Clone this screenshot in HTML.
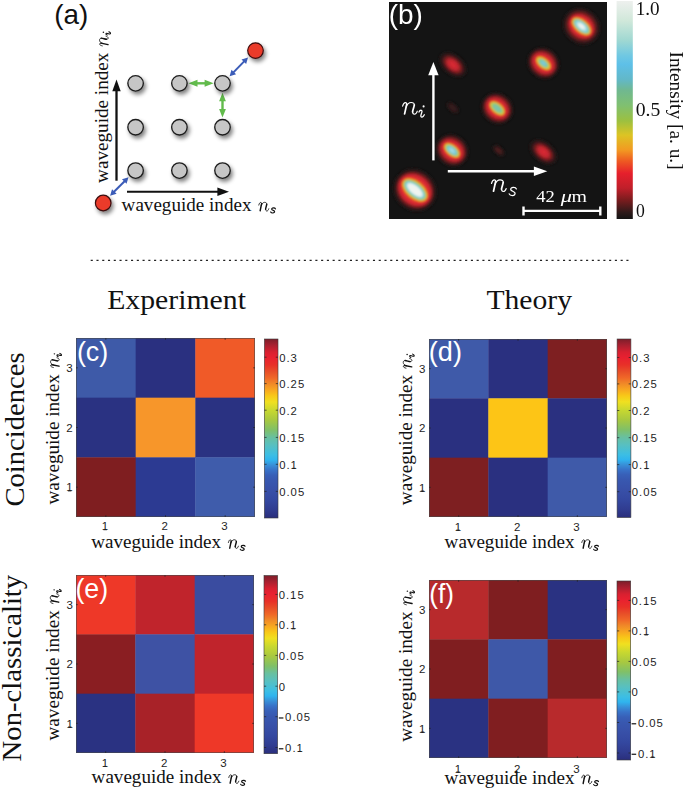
<!DOCTYPE html>
<html><head><meta charset="utf-8"><title>Figure</title>
<style>html,body{margin:0;padding:0;background:#fff;overflow:hidden;} svg{display:block;}</style></head>
<body><svg width="685" height="789" viewBox="0 0 685 789">
<defs><linearGradient id="gjet" x1="0" y1="0" x2="0" y2="1"><stop offset="0.000" stop-color="#7c1e2a"/><stop offset="0.034" stop-color="#a82030"/><stop offset="0.073" stop-color="#d82030"/><stop offset="0.102" stop-color="#e82030"/><stop offset="0.145" stop-color="#e83028"/><stop offset="0.184" stop-color="#e85028"/><stop offset="0.218" stop-color="#f06828"/><stop offset="0.249" stop-color="#f08828"/><stop offset="0.285" stop-color="#f8a820"/><stop offset="0.318" stop-color="#f8c818"/><stop offset="0.352" stop-color="#f0e020"/><stop offset="0.398" stop-color="#c8d830"/><stop offset="0.453" stop-color="#a8c840"/><stop offset="0.508" stop-color="#80c068"/><stop offset="0.550" stop-color="#68c0a0"/><stop offset="0.592" stop-color="#58c0c0"/><stop offset="0.648" stop-color="#3cbee4"/><stop offset="0.676" stop-color="#30b4ee"/><stop offset="0.704" stop-color="#3890d8"/><stop offset="0.732" stop-color="#3872c8"/><stop offset="0.760" stop-color="#3860b8"/><stop offset="0.788" stop-color="#3858b0"/><stop offset="0.844" stop-color="#3850a8"/><stop offset="0.900" stop-color="#3448a0"/><stop offset="0.955" stop-color="#303c90"/><stop offset="1.000" stop-color="#2a2e7c"/></linearGradient><linearGradient id="gb" x1="0" y1="0" x2="0" y2="1"><stop offset="0.000" stop-color="#eef0ee"/><stop offset="0.090" stop-color="#d0e8da"/><stop offset="0.180" stop-color="#a0d8d2"/><stop offset="0.250" stop-color="#70c8e2"/><stop offset="0.290" stop-color="#5ec0e8"/><stop offset="0.360" stop-color="#62b8c8"/><stop offset="0.410" stop-color="#70b890"/><stop offset="0.480" stop-color="#80c070"/><stop offset="0.550" stop-color="#9cc040"/><stop offset="0.615" stop-color="#dcc424"/><stop offset="0.683" stop-color="#f29a22"/><stop offset="0.734" stop-color="#ee5a22"/><stop offset="0.790" stop-color="#e6202c"/><stop offset="0.858" stop-color="#c01f2a"/><stop offset="0.913" stop-color="#7a1c1e"/><stop offset="0.970" stop-color="#2e1a1a"/><stop offset="1.000" stop-color="#141414"/></linearGradient><filter id="sh" x="-50%" y="-50%" width="200%" height="200%"><feGaussianBlur in="SourceAlpha" stdDeviation="2.1"/><feOffset dx="2.0" dy="2.6" result="o"/><feComponentTransfer><feFuncA type="linear" slope="0.5"/></feComponentTransfer><feMerge><feMergeNode/><feMergeNode in="SourceGraphic"/></feMerge></filter><filter id="bl" x="-20%" y="-20%" width="140%" height="140%"><feGaussianBlur stdDeviation="0.85"/></filter><clipPath id="cpb"><rect x="389" y="2" width="218" height="217"/></clipPath></defs>
<rect width="685" height="789" fill="#fff"/>
<text x="54.26" y="24.15" font-family="Liberation Sans" font-size="28" font-style="normal" fill="#111" textLength="33.96" lengthAdjust="spacingAndGlyphs">(a)</text>
<line x1="116.5" y1="180.7" x2="116.5" y2="90" stroke="#111" stroke-width="2.3"/>
<polygon points="116.5,79.6 112.3,91.2 120.7,91.2" fill="#111"/>
<line x1="127" y1="191.75" x2="218" y2="191.75" stroke="#111" stroke-width="2.2"/>
<polygon points="229,191.75 217.4,187.6 217.4,195.9" fill="#111"/>
<line x1="113.49" y1="192.31" x2="125.11" y2="180.69" stroke="#3b5cb8" stroke-width="2.0"/><polygon points="110.10,195.70 116.64,193.76 112.04,189.16" fill="#3b5cb8"/><polygon points="128.50,177.30 126.56,183.84 121.96,179.24" fill="#3b5cb8"/>
<line x1="232.95" y1="72.86" x2="244.65" y2="60.84" stroke="#3b5cb8" stroke-width="2.0"/><polygon points="229.60,76.30 236.11,74.27 231.46,69.73" fill="#3b5cb8"/><polygon points="248.00,57.40 246.14,63.97 241.49,59.43" fill="#3b5cb8"/>
<line x1="195.70" y1="83.30" x2="206.40" y2="83.30" stroke="#62bb4c" stroke-width="2.4"/><polygon points="188.50,83.30 197.50,86.80 197.50,79.80" fill="#62bb4c"/><polygon points="213.60,83.30 204.60,86.80 204.60,79.80" fill="#62bb4c"/>
<line x1="222.50" y1="99.60" x2="222.50" y2="110.80" stroke="#62bb4c" stroke-width="2.4"/><polygon points="222.50,92.80 219.10,101.30 225.90,101.30" fill="#62bb4c"/><polygon points="222.50,117.60 219.10,109.10 225.90,109.10" fill="#62bb4c"/>
<g filter="url(#sh)">
<circle cx="135.6" cy="83.35" r="7.75" fill="#c6c6c6" stroke="#1e1e1e" stroke-width="1.35"/>
<circle cx="179.4" cy="83.35" r="7.75" fill="#c6c6c6" stroke="#1e1e1e" stroke-width="1.35"/>
<circle cx="222.5" cy="83.35" r="7.75" fill="#c6c6c6" stroke="#1e1e1e" stroke-width="1.35"/>
<circle cx="135.6" cy="127.2" r="7.75" fill="#c6c6c6" stroke="#1e1e1e" stroke-width="1.35"/>
<circle cx="179.4" cy="127.2" r="7.75" fill="#c6c6c6" stroke="#1e1e1e" stroke-width="1.35"/>
<circle cx="222.5" cy="127.2" r="7.75" fill="#c6c6c6" stroke="#1e1e1e" stroke-width="1.35"/>
<circle cx="135.6" cy="170.55" r="7.75" fill="#c6c6c6" stroke="#1e1e1e" stroke-width="1.35"/>
<circle cx="179.4" cy="170.55" r="7.75" fill="#c6c6c6" stroke="#1e1e1e" stroke-width="1.35"/>
<circle cx="222.5" cy="170.55" r="7.75" fill="#c6c6c6" stroke="#1e1e1e" stroke-width="1.35"/>
<circle cx="255.5" cy="50.6" r="7.8" fill="#ea3a2c" stroke="#3a0c0c" stroke-width="1.2"/>
<circle cx="103.2" cy="203" r="7.8" fill="#ea3a2c" stroke="#3a0c0c" stroke-width="1.2"/>
</g>
<text x="121.60" y="210.80" font-family="Liberation Serif" font-size="19" font-style="normal" fill="#111" textLength="129.87" lengthAdjust="spacingAndGlyphs">waveguide index</text><g transform="translate(121.6,210.8) translate(137.2,0.2) scale(0.68,0.74) translate(-402.6,-114.2)" fill="none" stroke="#111" stroke-linecap="round" stroke-linejoin="round"><path d="M 402.6 106.2 C 403.2 104.0, 404.2 102.6, 405.4 102.6 C 406.4 102.6, 406.8 103.4, 406.7 104.4 M 406.2 107.0 C 407.2 104.2, 409.0 102.5, 411.2 102.5 C 413.2 102.5, 414.4 103.4, 414.3 105.0 M 412.6 111.8 C 412.6 113.4, 413.4 114.2, 414.4 114.2 C 415.8 114.2, 416.8 112.8, 417.3 111.2" stroke-width="1.2"/><path d="M 406.7 104.4 L 404.6 113.9 M 414.3 105.0 C 414.0 107.4, 412.8 109.8, 412.6 111.8" stroke-width="2.1"/></g><g transform="translate(121.6,210.8) translate(149.1,2.2) scale(0.66,0.62) translate(-509.2,-195.6)"><path d="M 516.4 188.9 C 515.9 187.7, 514.6 187.3, 513.3 187.4 C 511.5 187.5, 510.4 188.5, 510.8 189.8 C 511.2 191.1, 514.2 191.4, 514.9 192.8 C 515.5 194.2, 514.3 195.6, 512.4 195.6 C 510.9 195.6, 509.6 195.0, 509.2 193.9" fill="none" stroke="#111" stroke-width="1.85" stroke-linecap="round"/></g>
<text transform="translate(108.00,182.90) rotate(-90)" font-family="Liberation Serif" font-size="19" font-style="normal" fill="#111" textLength="130.27" lengthAdjust="spacingAndGlyphs">waveguide index</text><g transform="translate(108.0,182.9) rotate(-90) translate(137.0,0.2) scale(0.66,0.74) translate(-402.6,-114.2)" fill="none" stroke="#111" stroke-linecap="round" stroke-linejoin="round"><path d="M 402.6 106.2 C 403.2 104.0, 404.2 102.6, 405.4 102.6 C 406.4 102.6, 406.8 103.4, 406.7 104.4 M 406.2 107.0 C 407.2 104.2, 409.0 102.5, 411.2 102.5 C 413.2 102.5, 414.4 103.4, 414.3 105.0 M 412.6 111.8 C 412.6 113.4, 413.4 114.2, 414.4 114.2 C 415.8 114.2, 416.8 112.8, 417.3 111.2" stroke-width="1.2"/><path d="M 406.7 104.4 L 404.6 113.9 M 414.3 105.0 C 414.0 107.4, 412.8 109.8, 412.6 111.8" stroke-width="2.1"/></g><g transform="translate(108.0,182.9) rotate(-90) translate(147.8,2.6) scale(0.62,0.66) translate(-419.0,-117.3)"><circle cx="423.6" cy="106.4" r="1.15" fill="#111"/><path d="M 419.0 112.1 C 419.6 110.7, 420.6 110.1, 421.4 110.3 C 422.2 110.5, 422.1 111.6, 421.7 112.8 L 420.9 115.2 C 420.6 116.4, 421.1 117.3, 422.0 117.1 C 422.9 116.9, 423.7 115.9, 424.3 114.7" fill="none" stroke="#111" stroke-width="1.75" stroke-linecap="round"/></g>
<rect x="389" y="2" width="218" height="217" fill="#141414"/>
<g clip-path="url(#cpb)"><g filter="url(#bl)">
<ellipse cx="581.5" cy="26.3" rx="20.00" ry="18.00" transform="rotate(40 581.5 26.3)" fill="#211717"/>
<ellipse cx="581.5" cy="26.3" rx="18.50" ry="16.50" transform="rotate(40 581.5 26.3)" fill="#2a1919"/>
<ellipse cx="581.5" cy="26.3" rx="17.75" ry="15.75" transform="rotate(40 581.5 26.3)" fill="#341a1b"/>
<ellipse cx="581.5" cy="26.3" rx="17.00" ry="15.00" transform="rotate(40 581.5 26.3)" fill="#411b1c"/>
<ellipse cx="581.5" cy="26.3" rx="16.25" ry="14.25" transform="rotate(40 581.5 26.3)" fill="#4e1b1d"/>
<ellipse cx="581.5" cy="26.3" rx="15.50" ry="13.50" transform="rotate(40 581.5 26.3)" fill="#5a1b1e"/>
<ellipse cx="581.5" cy="26.3" rx="15.17" ry="13.05" transform="rotate(40 581.5 26.3)" fill="#671c1f"/>
<ellipse cx="581.5" cy="26.3" rx="14.83" ry="12.60" transform="rotate(40 581.5 26.3)" fill="#731c20"/>
<ellipse cx="581.5" cy="26.3" rx="14.50" ry="12.15" transform="rotate(40 581.5 26.3)" fill="#811e22"/>
<ellipse cx="581.5" cy="26.3" rx="14.17" ry="11.70" transform="rotate(40 581.5 26.3)" fill="#902025"/>
<ellipse cx="581.5" cy="26.3" rx="13.83" ry="11.25" transform="rotate(40 581.5 26.3)" fill="#9e2228"/>
<ellipse cx="581.5" cy="26.3" rx="13.35" ry="10.51" transform="rotate(40 581.5 26.3)" fill="#ba262e"/>
<ellipse cx="581.5" cy="26.3" rx="13.05" ry="9.94" transform="rotate(40 581.5 26.3)" fill="#c92830"/>
<ellipse cx="581.5" cy="26.3" rx="12.75" ry="9.36" transform="rotate(40 581.5 26.3)" fill="#d22931"/>
<ellipse cx="581.5" cy="26.3" rx="12.45" ry="8.79" transform="rotate(40 581.5 26.3)" fill="#da2a32"/>
<ellipse cx="581.5" cy="26.3" rx="12.17" ry="8.26" transform="rotate(40 581.5 26.3)" fill="#e12d31"/>
<ellipse cx="581.5" cy="26.3" rx="11.91" ry="7.78" transform="rotate(40 581.5 26.3)" fill="#e33b2e"/>
<ellipse cx="581.5" cy="26.3" rx="11.65" ry="7.30" transform="rotate(40 581.5 26.3)" fill="#e5492a"/>
<ellipse cx="581.5" cy="26.3" rx="11.39" ry="6.82" transform="rotate(40 581.5 26.3)" fill="#e75a28"/>
<ellipse cx="581.5" cy="26.3" rx="11.13" ry="6.34" transform="rotate(40 581.5 26.3)" fill="#e97128"/>
<ellipse cx="581.5" cy="26.3" rx="10.92" ry="5.98" transform="rotate(40 581.5 26.3)" fill="#ec8828"/>
<ellipse cx="581.5" cy="26.3" rx="10.76" ry="5.74" transform="rotate(40 581.5 26.3)" fill="#e99b2c"/>
<ellipse cx="581.5" cy="26.3" rx="10.60" ry="5.50" transform="rotate(40 581.5 26.3)" fill="#e6af30"/>
<ellipse cx="581.5" cy="26.3" rx="10.44" ry="5.26" transform="rotate(40 581.5 26.3)" fill="#e3c234"/>
<ellipse cx="581.5" cy="26.3" rx="10.28" ry="5.02" transform="rotate(40 581.5 26.3)" fill="#dccd3a"/>
<ellipse cx="581.5" cy="26.3" rx="10.11" ry="4.85" transform="rotate(40 581.5 26.3)" fill="#cfce42"/>
<ellipse cx="581.5" cy="26.3" rx="9.93" ry="4.75" transform="rotate(40 581.5 26.3)" fill="#c2cf4a"/>
<ellipse cx="581.5" cy="26.3" rx="9.75" ry="4.65" transform="rotate(40 581.5 26.3)" fill="#b5cf53"/>
<ellipse cx="581.5" cy="26.3" rx="9.57" ry="4.55" transform="rotate(40 581.5 26.3)" fill="#aacd5e"/>
<ellipse cx="581.5" cy="26.3" rx="9.39" ry="4.45" transform="rotate(40 581.5 26.3)" fill="#9ecb6a"/>
<ellipse cx="581.5" cy="26.3" rx="9.22" ry="4.36" transform="rotate(40 581.5 26.3)" fill="#93c975"/>
<ellipse cx="581.5" cy="26.3" rx="9.06" ry="4.28" transform="rotate(40 581.5 26.3)" fill="#8dc781"/>
<ellipse cx="581.5" cy="26.3" rx="8.90" ry="4.20" transform="rotate(40 581.5 26.3)" fill="#88c68c"/>
<ellipse cx="581.5" cy="26.3" rx="8.74" ry="4.12" transform="rotate(40 581.5 26.3)" fill="#83c597"/>
<ellipse cx="581.5" cy="26.3" rx="8.58" ry="4.04" transform="rotate(40 581.5 26.3)" fill="#7fc4a3"/>
<ellipse cx="581.5" cy="26.3" rx="8.42" ry="3.96" transform="rotate(40 581.5 26.3)" fill="#7dc5ae"/>
<ellipse cx="581.5" cy="26.3" rx="8.26" ry="3.88" transform="rotate(40 581.5 26.3)" fill="#7bc7ba"/>
<ellipse cx="581.5" cy="26.3" rx="8.10" ry="3.80" transform="rotate(40 581.5 26.3)" fill="#79c8c5"/>
<ellipse cx="581.5" cy="26.3" rx="7.88" ry="3.70" transform="rotate(40 581.5 26.3)" fill="#7ac9ce"/>
<ellipse cx="581.5" cy="26.3" rx="7.66" ry="3.60" transform="rotate(40 581.5 26.3)" fill="#7dcad6"/>
<ellipse cx="581.5" cy="26.3" rx="7.44" ry="3.50" transform="rotate(40 581.5 26.3)" fill="#7fccde"/>
<ellipse cx="581.5" cy="26.3" rx="7.22" ry="3.40" transform="rotate(40 581.5 26.3)" fill="#88cfe0"/>
<ellipse cx="581.5" cy="26.3" rx="7.00" ry="3.30" transform="rotate(40 581.5 26.3)" fill="#92d3e0"/>
<ellipse cx="581.5" cy="26.3" rx="6.52" ry="3.08" transform="rotate(40 581.5 26.3)" fill="#9cd7e0"/>
<ellipse cx="581.5" cy="26.3" rx="6.04" ry="2.86" transform="rotate(40 581.5 26.3)" fill="#a6dbe0"/>
<ellipse cx="581.5" cy="26.3" rx="5.56" ry="2.64" transform="rotate(40 581.5 26.3)" fill="#afdfe1"/>
<ellipse cx="581.5" cy="26.3" rx="5.08" ry="2.42" transform="rotate(40 581.5 26.3)" fill="#b9e2e3"/>
<ellipse cx="581.5" cy="26.3" rx="4.60" ry="2.20" transform="rotate(40 581.5 26.3)" fill="#c2e6e4"/>
<ellipse cx="581.5" cy="26.3" rx="4.32" ry="2.07" transform="rotate(40 581.5 26.3)" fill="#cceae6"/>
<ellipse cx="581.5" cy="26.3" rx="4.04" ry="1.93" transform="rotate(40 581.5 26.3)" fill="#d6ede8"/>
<ellipse cx="581.5" cy="26.3" rx="3.76" ry="1.80" transform="rotate(40 581.5 26.3)" fill="#dcefe9"/>
<ellipse cx="581.5" cy="26.3" rx="3.48" ry="1.67" transform="rotate(40 581.5 26.3)" fill="#e0f0eb"/>
<ellipse cx="581.5" cy="26.3" rx="3.20" ry="1.53" transform="rotate(40 581.5 26.3)" fill="#e5f1ec"/>
<ellipse cx="581.5" cy="26.3" rx="2.92" ry="1.40" transform="rotate(40 581.5 26.3)" fill="#eaf3ee"/>
<ellipse cx="581.5" cy="26.3" rx="2.64" ry="1.27" transform="rotate(40 581.5 26.3)" fill="#eff4f0"/>
<ellipse cx="543.4" cy="63.2" rx="17.00" ry="15.50" transform="rotate(40 543.4 63.2)" fill="#211717"/>
<ellipse cx="543.4" cy="63.2" rx="15.80" ry="14.20" transform="rotate(40 543.4 63.2)" fill="#2a1919"/>
<ellipse cx="543.4" cy="63.2" rx="15.30" ry="13.65" transform="rotate(40 543.4 63.2)" fill="#341a1b"/>
<ellipse cx="543.4" cy="63.2" rx="14.80" ry="13.10" transform="rotate(40 543.4 63.2)" fill="#411b1c"/>
<ellipse cx="543.4" cy="63.2" rx="14.30" ry="12.55" transform="rotate(40 543.4 63.2)" fill="#4e1b1d"/>
<ellipse cx="543.4" cy="63.2" rx="13.80" ry="12.00" transform="rotate(40 543.4 63.2)" fill="#5a1b1e"/>
<ellipse cx="543.4" cy="63.2" rx="13.53" ry="11.63" transform="rotate(40 543.4 63.2)" fill="#671c1f"/>
<ellipse cx="543.4" cy="63.2" rx="13.27" ry="11.27" transform="rotate(40 543.4 63.2)" fill="#731c20"/>
<ellipse cx="543.4" cy="63.2" rx="13.00" ry="10.90" transform="rotate(40 543.4 63.2)" fill="#811e22"/>
<ellipse cx="543.4" cy="63.2" rx="12.73" ry="10.53" transform="rotate(40 543.4 63.2)" fill="#902025"/>
<ellipse cx="543.4" cy="63.2" rx="12.47" ry="10.17" transform="rotate(40 543.4 63.2)" fill="#9e2228"/>
<ellipse cx="543.4" cy="63.2" rx="11.85" ry="9.41" transform="rotate(40 543.4 63.2)" fill="#ba262e"/>
<ellipse cx="543.4" cy="63.2" rx="11.15" ry="8.64" transform="rotate(40 543.4 63.2)" fill="#c92830"/>
<ellipse cx="543.4" cy="63.2" rx="10.45" ry="7.86" transform="rotate(40 543.4 63.2)" fill="#d22931"/>
<ellipse cx="543.4" cy="63.2" rx="9.75" ry="7.09" transform="rotate(40 543.4 63.2)" fill="#da2a32"/>
<ellipse cx="543.4" cy="63.2" rx="9.29" ry="6.49" transform="rotate(40 543.4 63.2)" fill="#e12d31"/>
<ellipse cx="543.4" cy="63.2" rx="9.07" ry="6.07" transform="rotate(40 543.4 63.2)" fill="#e33b2e"/>
<ellipse cx="543.4" cy="63.2" rx="8.85" ry="5.65" transform="rotate(40 543.4 63.2)" fill="#e5492a"/>
<ellipse cx="543.4" cy="63.2" rx="8.63" ry="5.23" transform="rotate(40 543.4 63.2)" fill="#e75a28"/>
<ellipse cx="543.4" cy="63.2" rx="8.41" ry="4.81" transform="rotate(40 543.4 63.2)" fill="#e97128"/>
<ellipse cx="543.4" cy="63.2" rx="8.21" ry="4.50" transform="rotate(40 543.4 63.2)" fill="#ec8828"/>
<ellipse cx="543.4" cy="63.2" rx="8.04" ry="4.30" transform="rotate(40 543.4 63.2)" fill="#e99b2c"/>
<ellipse cx="543.4" cy="63.2" rx="7.86" ry="4.10" transform="rotate(40 543.4 63.2)" fill="#e6af30"/>
<ellipse cx="543.4" cy="63.2" rx="7.69" ry="3.90" transform="rotate(40 543.4 63.2)" fill="#e3c234"/>
<ellipse cx="543.4" cy="63.2" rx="7.41" ry="3.71" transform="rotate(40 543.4 63.2)" fill="#dccd3a"/>
<ellipse cx="543.4" cy="63.2" rx="7.02" ry="3.52" transform="rotate(40 543.4 63.2)" fill="#cfce42"/>
<ellipse cx="543.4" cy="63.2" rx="6.64" ry="3.34" transform="rotate(40 543.4 63.2)" fill="#c2cf4a"/>
<ellipse cx="543.4" cy="63.2" rx="6.26" ry="3.16" transform="rotate(40 543.4 63.2)" fill="#b5cf53"/>
<ellipse cx="543.4" cy="63.2" rx="5.87" ry="2.97" transform="rotate(40 543.4 63.2)" fill="#aacd5e"/>
<ellipse cx="543.4" cy="63.2" rx="5.49" ry="2.79" transform="rotate(40 543.4 63.2)" fill="#9ecb6a"/>
<ellipse cx="543.4" cy="63.2" rx="5.20" ry="2.65" transform="rotate(40 543.4 63.2)" fill="#93c975"/>
<ellipse cx="543.4" cy="63.2" rx="5.00" ry="2.54" transform="rotate(40 543.4 63.2)" fill="#8dc781"/>
<ellipse cx="543.4" cy="63.2" rx="4.80" ry="2.43" transform="rotate(40 543.4 63.2)" fill="#88c68c"/>
<ellipse cx="543.4" cy="63.2" rx="4.60" ry="2.33" transform="rotate(40 543.4 63.2)" fill="#83c597"/>
<ellipse cx="543.4" cy="63.2" rx="4.40" ry="2.22" transform="rotate(40 543.4 63.2)" fill="#7fc4a3"/>
<ellipse cx="543.4" cy="63.2" rx="4.20" ry="2.11" transform="rotate(40 543.4 63.2)" fill="#7dc5ae"/>
<ellipse cx="543.4" cy="63.2" rx="4.00" ry="2.01" transform="rotate(40 543.4 63.2)" fill="#7bc7ba"/>
<ellipse cx="543.4" cy="63.2" rx="3.80" ry="1.90" transform="rotate(40 543.4 63.2)" fill="#79c8c5"/>
<ellipse cx="543.4" cy="63.2" rx="3.00" ry="1.50" transform="rotate(40 543.4 63.2)" fill="#7ac9ce"/>
<ellipse cx="543.4" cy="63.2" rx="2.20" ry="1.10" transform="rotate(40 543.4 63.2)" fill="#7dcad6"/>
<ellipse cx="543.4" cy="63.2" rx="1.40" ry="0.70" transform="rotate(40 543.4 63.2)" fill="#7fccde"/>
<ellipse cx="453.0" cy="64.8" rx="16.00" ry="10.50" transform="rotate(40 453.0 64.8)" fill="#211717"/>
<ellipse cx="453.0" cy="64.8" rx="14.00" ry="9.00" transform="rotate(40 453.0 64.8)" fill="#2a1919"/>
<ellipse cx="453.0" cy="64.8" rx="13.25" ry="8.40" transform="rotate(40 453.0 64.8)" fill="#341a1b"/>
<ellipse cx="453.0" cy="64.8" rx="12.50" ry="7.80" transform="rotate(40 453.0 64.8)" fill="#411b1c"/>
<ellipse cx="453.0" cy="64.8" rx="11.75" ry="7.20" transform="rotate(40 453.0 64.8)" fill="#4e1b1d"/>
<ellipse cx="453.0" cy="64.8" rx="11.00" ry="6.60" transform="rotate(40 453.0 64.8)" fill="#5a1b1e"/>
<ellipse cx="453.0" cy="64.8" rx="10.47" ry="6.28" transform="rotate(40 453.0 64.8)" fill="#671c1f"/>
<ellipse cx="453.0" cy="64.8" rx="9.93" ry="5.97" transform="rotate(40 453.0 64.8)" fill="#731c20"/>
<ellipse cx="453.0" cy="64.8" rx="9.40" ry="5.65" transform="rotate(40 453.0 64.8)" fill="#811e22"/>
<ellipse cx="453.0" cy="64.8" rx="8.87" ry="5.33" transform="rotate(40 453.0 64.8)" fill="#902025"/>
<ellipse cx="453.0" cy="64.8" rx="8.33" ry="5.02" transform="rotate(40 453.0 64.8)" fill="#9e2228"/>
<ellipse cx="453.0" cy="64.8" rx="7.10" ry="4.28" transform="rotate(40 453.0 64.8)" fill="#ba262e"/>
<ellipse cx="453.0" cy="64.8" rx="5.70" ry="3.43" transform="rotate(40 453.0 64.8)" fill="#c92830"/>
<ellipse cx="453.0" cy="64.8" rx="3.83" ry="2.30" transform="rotate(40 453.0 64.8)" fill="#d22931"/>
<ellipse cx="453.0" cy="64.8" rx="1.50" ry="0.90" transform="rotate(40 453.0 64.8)" fill="#da2a32"/>
<ellipse cx="497.2" cy="108.3" rx="17.00" ry="15.50" transform="rotate(40 497.2 108.3)" fill="#211717"/>
<ellipse cx="497.2" cy="108.3" rx="15.80" ry="14.20" transform="rotate(40 497.2 108.3)" fill="#2a1919"/>
<ellipse cx="497.2" cy="108.3" rx="15.30" ry="13.65" transform="rotate(40 497.2 108.3)" fill="#341a1b"/>
<ellipse cx="497.2" cy="108.3" rx="14.80" ry="13.10" transform="rotate(40 497.2 108.3)" fill="#411b1c"/>
<ellipse cx="497.2" cy="108.3" rx="14.30" ry="12.55" transform="rotate(40 497.2 108.3)" fill="#4e1b1d"/>
<ellipse cx="497.2" cy="108.3" rx="13.80" ry="12.00" transform="rotate(40 497.2 108.3)" fill="#5a1b1e"/>
<ellipse cx="497.2" cy="108.3" rx="13.53" ry="11.63" transform="rotate(40 497.2 108.3)" fill="#671c1f"/>
<ellipse cx="497.2" cy="108.3" rx="13.27" ry="11.27" transform="rotate(40 497.2 108.3)" fill="#731c20"/>
<ellipse cx="497.2" cy="108.3" rx="13.00" ry="10.90" transform="rotate(40 497.2 108.3)" fill="#811e22"/>
<ellipse cx="497.2" cy="108.3" rx="12.73" ry="10.53" transform="rotate(40 497.2 108.3)" fill="#902025"/>
<ellipse cx="497.2" cy="108.3" rx="12.47" ry="10.17" transform="rotate(40 497.2 108.3)" fill="#9e2228"/>
<ellipse cx="497.2" cy="108.3" rx="11.88" ry="9.44" transform="rotate(40 497.2 108.3)" fill="#ba262e"/>
<ellipse cx="497.2" cy="108.3" rx="11.23" ry="8.71" transform="rotate(40 497.2 108.3)" fill="#c92830"/>
<ellipse cx="497.2" cy="108.3" rx="10.58" ry="7.99" transform="rotate(40 497.2 108.3)" fill="#d22931"/>
<ellipse cx="497.2" cy="108.3" rx="9.93" ry="7.26" transform="rotate(40 497.2 108.3)" fill="#da2a32"/>
<ellipse cx="497.2" cy="108.3" rx="9.51" ry="6.69" transform="rotate(40 497.2 108.3)" fill="#e12d31"/>
<ellipse cx="497.2" cy="108.3" rx="9.33" ry="6.27" transform="rotate(40 497.2 108.3)" fill="#e33b2e"/>
<ellipse cx="497.2" cy="108.3" rx="9.15" ry="5.85" transform="rotate(40 497.2 108.3)" fill="#e5492a"/>
<ellipse cx="497.2" cy="108.3" rx="8.97" ry="5.43" transform="rotate(40 497.2 108.3)" fill="#e75a28"/>
<ellipse cx="497.2" cy="108.3" rx="8.79" ry="5.01" transform="rotate(40 497.2 108.3)" fill="#e97128"/>
<ellipse cx="497.2" cy="108.3" rx="8.61" ry="4.70" transform="rotate(40 497.2 108.3)" fill="#ec8828"/>
<ellipse cx="497.2" cy="108.3" rx="8.44" ry="4.50" transform="rotate(40 497.2 108.3)" fill="#e99b2c"/>
<ellipse cx="497.2" cy="108.3" rx="8.26" ry="4.30" transform="rotate(40 497.2 108.3)" fill="#e6af30"/>
<ellipse cx="497.2" cy="108.3" rx="8.09" ry="4.10" transform="rotate(40 497.2 108.3)" fill="#e3c234"/>
<ellipse cx="497.2" cy="108.3" rx="7.88" ry="3.93" transform="rotate(40 497.2 108.3)" fill="#dccd3a"/>
<ellipse cx="497.2" cy="108.3" rx="7.62" ry="3.80" transform="rotate(40 497.2 108.3)" fill="#cfce42"/>
<ellipse cx="497.2" cy="108.3" rx="7.37" ry="3.67" transform="rotate(40 497.2 108.3)" fill="#c2cf4a"/>
<ellipse cx="497.2" cy="108.3" rx="7.12" ry="3.53" transform="rotate(40 497.2 108.3)" fill="#b5cf53"/>
<ellipse cx="497.2" cy="108.3" rx="6.87" ry="3.40" transform="rotate(40 497.2 108.3)" fill="#aacd5e"/>
<ellipse cx="497.2" cy="108.3" rx="6.62" ry="3.27" transform="rotate(40 497.2 108.3)" fill="#9ecb6a"/>
<ellipse cx="497.2" cy="108.3" rx="6.25" ry="3.08" transform="rotate(40 497.2 108.3)" fill="#93c975"/>
<ellipse cx="497.2" cy="108.3" rx="5.75" ry="2.84" transform="rotate(40 497.2 108.3)" fill="#8dc781"/>
<ellipse cx="497.2" cy="108.3" rx="5.25" ry="2.60" transform="rotate(40 497.2 108.3)" fill="#88c68c"/>
<ellipse cx="497.2" cy="108.3" rx="4.75" ry="2.36" transform="rotate(40 497.2 108.3)" fill="#83c597"/>
<ellipse cx="497.2" cy="108.3" rx="4.25" ry="2.12" transform="rotate(40 497.2 108.3)" fill="#7fc4a3"/>
<ellipse cx="497.2" cy="108.3" rx="3.00" ry="1.50" transform="rotate(40 497.2 108.3)" fill="#7dc5ae"/>
<ellipse cx="452.8" cy="107.7" rx="7.67" ry="4.50" transform="rotate(40 452.8 107.7)" fill="#211717"/>
<ellipse cx="452.8" cy="107.7" rx="6.17" ry="3.50" transform="rotate(40 452.8 107.7)" fill="#2a1919"/>
<ellipse cx="452.8" cy="107.7" rx="4.50" ry="2.50" transform="rotate(40 452.8 107.7)" fill="#341a1b"/>
<ellipse cx="452.0" cy="150.4" rx="17.50" ry="16.00" transform="rotate(40 452.0 150.4)" fill="#211717"/>
<ellipse cx="452.0" cy="150.4" rx="16.20" ry="14.60" transform="rotate(40 452.0 150.4)" fill="#2a1919"/>
<ellipse cx="452.0" cy="150.4" rx="15.70" ry="14.03" transform="rotate(40 452.0 150.4)" fill="#341a1b"/>
<ellipse cx="452.0" cy="150.4" rx="15.20" ry="13.45" transform="rotate(40 452.0 150.4)" fill="#411b1c"/>
<ellipse cx="452.0" cy="150.4" rx="14.70" ry="12.88" transform="rotate(40 452.0 150.4)" fill="#4e1b1d"/>
<ellipse cx="452.0" cy="150.4" rx="14.20" ry="12.30" transform="rotate(40 452.0 150.4)" fill="#5a1b1e"/>
<ellipse cx="452.0" cy="150.4" rx="13.92" ry="11.92" transform="rotate(40 452.0 150.4)" fill="#671c1f"/>
<ellipse cx="452.0" cy="150.4" rx="13.63" ry="11.53" transform="rotate(40 452.0 150.4)" fill="#731c20"/>
<ellipse cx="452.0" cy="150.4" rx="13.35" ry="11.15" transform="rotate(40 452.0 150.4)" fill="#811e22"/>
<ellipse cx="452.0" cy="150.4" rx="13.07" ry="10.77" transform="rotate(40 452.0 150.4)" fill="#902025"/>
<ellipse cx="452.0" cy="150.4" rx="12.78" ry="10.38" transform="rotate(40 452.0 150.4)" fill="#9e2228"/>
<ellipse cx="452.0" cy="150.4" rx="12.19" ry="9.62" transform="rotate(40 452.0 150.4)" fill="#ba262e"/>
<ellipse cx="452.0" cy="150.4" rx="11.56" ry="8.88" transform="rotate(40 452.0 150.4)" fill="#c92830"/>
<ellipse cx="452.0" cy="150.4" rx="10.94" ry="8.13" transform="rotate(40 452.0 150.4)" fill="#d22931"/>
<ellipse cx="452.0" cy="150.4" rx="10.31" ry="7.38" transform="rotate(40 452.0 150.4)" fill="#da2a32"/>
<ellipse cx="452.0" cy="150.4" rx="9.90" ry="6.80" transform="rotate(40 452.0 150.4)" fill="#e12d31"/>
<ellipse cx="452.0" cy="150.4" rx="9.70" ry="6.40" transform="rotate(40 452.0 150.4)" fill="#e33b2e"/>
<ellipse cx="452.0" cy="150.4" rx="9.50" ry="6.00" transform="rotate(40 452.0 150.4)" fill="#e5492a"/>
<ellipse cx="452.0" cy="150.4" rx="9.30" ry="5.60" transform="rotate(40 452.0 150.4)" fill="#e75a28"/>
<ellipse cx="452.0" cy="150.4" rx="9.10" ry="5.20" transform="rotate(40 452.0 150.4)" fill="#e97128"/>
<ellipse cx="452.0" cy="150.4" rx="8.91" ry="4.90" transform="rotate(40 452.0 150.4)" fill="#ec8828"/>
<ellipse cx="452.0" cy="150.4" rx="8.74" ry="4.70" transform="rotate(40 452.0 150.4)" fill="#e99b2c"/>
<ellipse cx="452.0" cy="150.4" rx="8.56" ry="4.50" transform="rotate(40 452.0 150.4)" fill="#e6af30"/>
<ellipse cx="452.0" cy="150.4" rx="8.39" ry="4.30" transform="rotate(40 452.0 150.4)" fill="#e3c234"/>
<ellipse cx="452.0" cy="150.4" rx="8.19" ry="4.14" transform="rotate(40 452.0 150.4)" fill="#dccd3a"/>
<ellipse cx="452.0" cy="150.4" rx="7.98" ry="4.03" transform="rotate(40 452.0 150.4)" fill="#cfce42"/>
<ellipse cx="452.0" cy="150.4" rx="7.76" ry="3.91" transform="rotate(40 452.0 150.4)" fill="#c2cf4a"/>
<ellipse cx="452.0" cy="150.4" rx="7.54" ry="3.79" transform="rotate(40 452.0 150.4)" fill="#b5cf53"/>
<ellipse cx="452.0" cy="150.4" rx="7.32" ry="3.67" transform="rotate(40 452.0 150.4)" fill="#aacd5e"/>
<ellipse cx="452.0" cy="150.4" rx="7.11" ry="3.56" transform="rotate(40 452.0 150.4)" fill="#9ecb6a"/>
<ellipse cx="452.0" cy="150.4" rx="6.89" ry="3.44" transform="rotate(40 452.0 150.4)" fill="#93c975"/>
<ellipse cx="452.0" cy="150.4" rx="6.67" ry="3.33" transform="rotate(40 452.0 150.4)" fill="#8dc781"/>
<ellipse cx="452.0" cy="150.4" rx="6.45" ry="3.22" transform="rotate(40 452.0 150.4)" fill="#88c68c"/>
<ellipse cx="452.0" cy="150.4" rx="6.23" ry="3.11" transform="rotate(40 452.0 150.4)" fill="#83c597"/>
<ellipse cx="452.0" cy="150.4" rx="6.01" ry="3.00" transform="rotate(40 452.0 150.4)" fill="#7fc4a3"/>
<ellipse cx="452.0" cy="150.4" rx="5.79" ry="2.89" transform="rotate(40 452.0 150.4)" fill="#7dc5ae"/>
<ellipse cx="452.0" cy="150.4" rx="5.57" ry="2.78" transform="rotate(40 452.0 150.4)" fill="#7bc7ba"/>
<ellipse cx="452.0" cy="150.4" rx="5.35" ry="2.67" transform="rotate(40 452.0 150.4)" fill="#79c8c5"/>
<ellipse cx="452.0" cy="150.4" rx="5.13" ry="2.56" transform="rotate(40 452.0 150.4)" fill="#7ac9ce"/>
<ellipse cx="452.0" cy="150.4" rx="4.91" ry="2.45" transform="rotate(40 452.0 150.4)" fill="#7dcad6"/>
<ellipse cx="452.0" cy="150.4" rx="4.48" ry="2.24" transform="rotate(40 452.0 150.4)" fill="#7fccde"/>
<ellipse cx="452.0" cy="150.4" rx="3.85" ry="1.92" transform="rotate(40 452.0 150.4)" fill="#88cfe0"/>
<ellipse cx="452.0" cy="150.4" rx="3.22" ry="1.61" transform="rotate(40 452.0 150.4)" fill="#92d3e0"/>
<ellipse cx="452.0" cy="150.4" rx="2.58" ry="1.29" transform="rotate(40 452.0 150.4)" fill="#9cd7e0"/>
<ellipse cx="452.0" cy="150.4" rx="1.95" ry="0.97" transform="rotate(40 452.0 150.4)" fill="#a6dbe0"/>
<ellipse cx="452.0" cy="150.4" rx="1.32" ry="0.66" transform="rotate(40 452.0 150.4)" fill="#afdfe1"/>
<ellipse cx="498.6" cy="150.5" rx="7.67" ry="4.50" transform="rotate(40 498.6 150.5)" fill="#211717"/>
<ellipse cx="498.6" cy="150.5" rx="6.33" ry="3.60" transform="rotate(40 498.6 150.5)" fill="#2a1919"/>
<ellipse cx="498.6" cy="150.5" rx="5.00" ry="2.80" transform="rotate(40 498.6 150.5)" fill="#341a1b"/>
<ellipse cx="498.6" cy="150.5" rx="3.83" ry="2.13" transform="rotate(40 498.6 150.5)" fill="#411b1c"/>
<ellipse cx="498.6" cy="150.5" rx="2.67" ry="1.47" transform="rotate(40 498.6 150.5)" fill="#4e1b1d"/>
<ellipse cx="543.4" cy="152.0" rx="16.00" ry="10.50" transform="rotate(40 543.4 152.0)" fill="#211717"/>
<ellipse cx="543.4" cy="152.0" rx="14.00" ry="9.00" transform="rotate(40 543.4 152.0)" fill="#2a1919"/>
<ellipse cx="543.4" cy="152.0" rx="13.25" ry="8.40" transform="rotate(40 543.4 152.0)" fill="#341a1b"/>
<ellipse cx="543.4" cy="152.0" rx="12.50" ry="7.80" transform="rotate(40 543.4 152.0)" fill="#411b1c"/>
<ellipse cx="543.4" cy="152.0" rx="11.75" ry="7.20" transform="rotate(40 543.4 152.0)" fill="#4e1b1d"/>
<ellipse cx="543.4" cy="152.0" rx="11.00" ry="6.60" transform="rotate(40 543.4 152.0)" fill="#5a1b1e"/>
<ellipse cx="543.4" cy="152.0" rx="10.47" ry="6.28" transform="rotate(40 543.4 152.0)" fill="#671c1f"/>
<ellipse cx="543.4" cy="152.0" rx="9.93" ry="5.97" transform="rotate(40 543.4 152.0)" fill="#731c20"/>
<ellipse cx="543.4" cy="152.0" rx="9.40" ry="5.65" transform="rotate(40 543.4 152.0)" fill="#811e22"/>
<ellipse cx="543.4" cy="152.0" rx="8.87" ry="5.33" transform="rotate(40 543.4 152.0)" fill="#902025"/>
<ellipse cx="543.4" cy="152.0" rx="8.33" ry="5.02" transform="rotate(40 543.4 152.0)" fill="#9e2228"/>
<ellipse cx="543.4" cy="152.0" rx="7.10" ry="4.28" transform="rotate(40 543.4 152.0)" fill="#ba262e"/>
<ellipse cx="543.4" cy="152.0" rx="5.70" ry="3.43" transform="rotate(40 543.4 152.0)" fill="#c92830"/>
<ellipse cx="543.4" cy="152.0" rx="3.83" ry="2.30" transform="rotate(40 543.4 152.0)" fill="#d22931"/>
<ellipse cx="543.4" cy="152.0" rx="1.50" ry="0.90" transform="rotate(40 543.4 152.0)" fill="#da2a32"/>
<ellipse cx="414.9" cy="190.0" rx="23.00" ry="21.00" transform="rotate(40 414.9 190.0)" fill="#211717"/>
<ellipse cx="414.9" cy="190.0" rx="21.50" ry="19.50" transform="rotate(40 414.9 190.0)" fill="#2a1919"/>
<ellipse cx="414.9" cy="190.0" rx="20.50" ry="18.50" transform="rotate(40 414.9 190.0)" fill="#341a1b"/>
<ellipse cx="414.9" cy="190.0" rx="20.10" ry="18.00" transform="rotate(40 414.9 190.0)" fill="#411b1c"/>
<ellipse cx="414.9" cy="190.0" rx="19.70" ry="17.50" transform="rotate(40 414.9 190.0)" fill="#4e1b1d"/>
<ellipse cx="414.9" cy="190.0" rx="19.30" ry="17.00" transform="rotate(40 414.9 190.0)" fill="#5a1b1e"/>
<ellipse cx="414.9" cy="190.0" rx="18.90" ry="16.50" transform="rotate(40 414.9 190.0)" fill="#671c1f"/>
<ellipse cx="414.9" cy="190.0" rx="18.50" ry="16.00" transform="rotate(40 414.9 190.0)" fill="#731c20"/>
<ellipse cx="414.9" cy="190.0" rx="18.29" ry="15.69" transform="rotate(40 414.9 190.0)" fill="#811e22"/>
<ellipse cx="414.9" cy="190.0" rx="18.07" ry="15.37" transform="rotate(40 414.9 190.0)" fill="#902025"/>
<ellipse cx="414.9" cy="190.0" rx="17.86" ry="15.06" transform="rotate(40 414.9 190.0)" fill="#9e2228"/>
<ellipse cx="414.9" cy="190.0" rx="17.43" ry="14.43" transform="rotate(40 414.9 190.0)" fill="#ba262e"/>
<ellipse cx="414.9" cy="190.0" rx="17.00" ry="13.80" transform="rotate(40 414.9 190.0)" fill="#c92830"/>
<ellipse cx="414.9" cy="190.0" rx="16.64" ry="12.96" transform="rotate(40 414.9 190.0)" fill="#d22931"/>
<ellipse cx="414.9" cy="190.0" rx="16.28" ry="12.12" transform="rotate(40 414.9 190.0)" fill="#da2a32"/>
<ellipse cx="414.9" cy="190.0" rx="15.92" ry="11.28" transform="rotate(40 414.9 190.0)" fill="#e12d31"/>
<ellipse cx="414.9" cy="190.0" rx="15.56" ry="10.44" transform="rotate(40 414.9 190.0)" fill="#e33b2e"/>
<ellipse cx="414.9" cy="190.0" rx="15.20" ry="9.60" transform="rotate(40 414.9 190.0)" fill="#e5492a"/>
<ellipse cx="414.9" cy="190.0" rx="14.92" ry="9.12" transform="rotate(40 414.9 190.0)" fill="#e75a28"/>
<ellipse cx="414.9" cy="190.0" rx="14.64" ry="8.64" transform="rotate(40 414.9 190.0)" fill="#e97128"/>
<ellipse cx="414.9" cy="190.0" rx="14.41" ry="8.28" transform="rotate(40 414.9 190.0)" fill="#ec8828"/>
<ellipse cx="414.9" cy="190.0" rx="14.24" ry="8.03" transform="rotate(40 414.9 190.0)" fill="#e99b2c"/>
<ellipse cx="414.9" cy="190.0" rx="14.06" ry="7.78" transform="rotate(40 414.9 190.0)" fill="#e6af30"/>
<ellipse cx="414.9" cy="190.0" rx="13.89" ry="7.53" transform="rotate(40 414.9 190.0)" fill="#e3c234"/>
<ellipse cx="414.9" cy="190.0" rx="13.70" ry="7.30" transform="rotate(40 414.9 190.0)" fill="#dccd3a"/>
<ellipse cx="414.9" cy="190.0" rx="13.50" ry="7.10" transform="rotate(40 414.9 190.0)" fill="#cfce42"/>
<ellipse cx="414.9" cy="190.0" rx="13.30" ry="6.90" transform="rotate(40 414.9 190.0)" fill="#c2cf4a"/>
<ellipse cx="414.9" cy="190.0" rx="13.10" ry="6.70" transform="rotate(40 414.9 190.0)" fill="#b5cf53"/>
<ellipse cx="414.9" cy="190.0" rx="12.94" ry="6.54" transform="rotate(40 414.9 190.0)" fill="#aacd5e"/>
<ellipse cx="414.9" cy="190.0" rx="12.78" ry="6.38" transform="rotate(40 414.9 190.0)" fill="#9ecb6a"/>
<ellipse cx="414.9" cy="190.0" rx="12.62" ry="6.22" transform="rotate(40 414.9 190.0)" fill="#93c975"/>
<ellipse cx="414.9" cy="190.0" rx="12.46" ry="6.06" transform="rotate(40 414.9 190.0)" fill="#8dc781"/>
<ellipse cx="414.9" cy="190.0" rx="12.30" ry="5.90" transform="rotate(40 414.9 190.0)" fill="#88c68c"/>
<ellipse cx="414.9" cy="190.0" rx="12.13" ry="5.78" transform="rotate(40 414.9 190.0)" fill="#83c597"/>
<ellipse cx="414.9" cy="190.0" rx="11.95" ry="5.66" transform="rotate(40 414.9 190.0)" fill="#7fc4a3"/>
<ellipse cx="414.9" cy="190.0" rx="11.78" ry="5.54" transform="rotate(40 414.9 190.0)" fill="#7dc5ae"/>
<ellipse cx="414.9" cy="190.0" rx="11.61" ry="5.42" transform="rotate(40 414.9 190.0)" fill="#7bc7ba"/>
<ellipse cx="414.9" cy="190.0" rx="11.43" ry="5.30" transform="rotate(40 414.9 190.0)" fill="#79c8c5"/>
<ellipse cx="414.9" cy="190.0" rx="11.26" ry="5.18" transform="rotate(40 414.9 190.0)" fill="#7ac9ce"/>
<ellipse cx="414.9" cy="190.0" rx="11.09" ry="5.06" transform="rotate(40 414.9 190.0)" fill="#7dcad6"/>
<ellipse cx="414.9" cy="190.0" rx="10.90" ry="4.93" transform="rotate(40 414.9 190.0)" fill="#7fccde"/>
<ellipse cx="414.9" cy="190.0" rx="10.70" ry="4.80" transform="rotate(40 414.9 190.0)" fill="#88cfe0"/>
<ellipse cx="414.9" cy="190.0" rx="10.50" ry="4.67" transform="rotate(40 414.9 190.0)" fill="#92d3e0"/>
<ellipse cx="414.9" cy="190.0" rx="10.30" ry="4.53" transform="rotate(40 414.9 190.0)" fill="#9cd7e0"/>
<ellipse cx="414.9" cy="190.0" rx="10.10" ry="4.40" transform="rotate(40 414.9 190.0)" fill="#a6dbe0"/>
<ellipse cx="414.9" cy="190.0" rx="9.90" ry="4.27" transform="rotate(40 414.9 190.0)" fill="#afdfe1"/>
<ellipse cx="414.9" cy="190.0" rx="9.70" ry="4.13" transform="rotate(40 414.9 190.0)" fill="#b9e2e3"/>
<ellipse cx="414.9" cy="190.0" rx="9.50" ry="4.00" transform="rotate(40 414.9 190.0)" fill="#c2e6e4"/>
<ellipse cx="414.9" cy="190.0" rx="9.30" ry="3.92" transform="rotate(40 414.9 190.0)" fill="#cceae6"/>
<ellipse cx="414.9" cy="190.0" rx="9.10" ry="3.84" transform="rotate(40 414.9 190.0)" fill="#d6ede8"/>
<ellipse cx="414.9" cy="190.0" rx="8.90" ry="3.76" transform="rotate(40 414.9 190.0)" fill="#dcefe9"/>
<ellipse cx="414.9" cy="190.0" rx="8.70" ry="3.68" transform="rotate(40 414.9 190.0)" fill="#e0f0eb"/>
<ellipse cx="414.9" cy="190.0" rx="8.50" ry="3.60" transform="rotate(40 414.9 190.0)" fill="#e5f1ec"/>
<ellipse cx="414.9" cy="190.0" rx="8.30" ry="3.52" transform="rotate(40 414.9 190.0)" fill="#eaf3ee"/>
<ellipse cx="414.9" cy="190.0" rx="8.10" ry="3.44" transform="rotate(40 414.9 190.0)" fill="#eff4f0"/>
</g></g>
<line x1="433.4" y1="160.4" x2="433.4" y2="73" stroke="#fff" stroke-width="2.4"/>
<polygon points="433.4,61.9 428.2,75.2 438.6,75.2" fill="#fff"/>
<line x1="447.8" y1="171.2" x2="535" y2="171.2" stroke="#fff" stroke-width="2.4"/>
<polygon points="547.3,171.2 533.9,166.4 533.9,176" fill="#fff"/>
<g transform="translate(0,0)" fill="none" stroke="#fff" stroke-linecap="round" stroke-linejoin="round"><path d="M 402.6 106.2 C 403.2 104.0, 404.2 102.6, 405.4 102.6 C 406.4 102.6, 406.8 103.4, 406.7 104.4 M 406.2 107.0 C 407.2 104.2, 409.0 102.5, 411.2 102.5 C 413.2 102.5, 414.4 103.4, 414.3 105.0 M 412.6 111.8 C 412.6 113.4, 413.4 114.2, 414.4 114.2 C 415.8 114.2, 416.8 112.8, 417.3 111.2" stroke-width="1.15"/><path d="M 406.7 104.4 L 404.6 113.9 M 414.3 105.0 C 414.0 107.4, 412.8 109.8, 412.6 111.8" stroke-width="1.75"/></g>
<g transform="translate(88.9,77.3)" fill="none" stroke="#fff" stroke-linecap="round" stroke-linejoin="round"><path d="M 402.6 106.2 C 403.2 104.0, 404.2 102.6, 405.4 102.6 C 406.4 102.6, 406.8 103.4, 406.7 104.4 M 406.2 107.0 C 407.2 104.2, 409.0 102.5, 411.2 102.5 C 413.2 102.5, 414.4 103.4, 414.3 105.0 M 412.6 111.8 C 412.6 113.4, 413.4 114.2, 414.4 114.2 C 415.8 114.2, 416.8 112.8, 417.3 111.2" stroke-width="1.15"/><path d="M 406.7 104.4 L 404.6 113.9 M 414.3 105.0 C 414.0 107.4, 412.8 109.8, 412.6 111.8" stroke-width="1.75"/></g>
<circle cx="423.6" cy="106.4" r="1.05" fill="#fff"/>
<path d="M 419.0 112.1 C 419.6 110.7, 420.6 110.1, 421.4 110.3 C 422.2 110.5, 422.1 111.6, 421.7 112.8 L 420.9 115.2 C 420.6 116.4, 421.1 117.3, 422.0 117.1 C 422.9 116.9, 423.7 115.9, 424.3 114.7" fill="none" stroke="#fff" stroke-width="1.25" stroke-linecap="round"/>
<path d="M 516.4 188.9 C 515.9 187.7, 514.6 187.3, 513.3 187.4 C 511.5 187.5, 510.4 188.5, 510.8 189.8 C 511.2 191.1, 514.2 191.4, 514.9 192.8 C 515.5 194.2, 514.3 195.6, 512.4 195.6 C 510.9 195.6, 509.6 195.0, 509.2 193.9" fill="none" stroke="#fff" stroke-width="1.3" stroke-linecap="round"/>
<text x="536.23" y="202.10" font-family="Liberation Serif" font-size="17.2" font-style="normal" fill="#fff" textLength="18.57" lengthAdjust="spacingAndGlyphs">42</text>
<text x="560.80" y="202.00" font-family="Liberation Serif" font-size="17.5" font-style="italic" fill="#fff" textLength="11.32" lengthAdjust="spacingAndGlyphs">μ</text>
<text x="571.61" y="201.90" font-family="Liberation Serif" font-size="17" font-style="normal" fill="#fff" textLength="15.47" lengthAdjust="spacingAndGlyphs">m</text>
<line x1="523" y1="210.8" x2="600.5" y2="210.8" stroke="#fff" stroke-width="2.2"/>
<line x1="523.5" y1="206.5" x2="523.5" y2="215.5" stroke="#fff" stroke-width="2.4"/>
<line x1="600.3" y1="206.5" x2="600.3" y2="215.5" stroke="#fff" stroke-width="2.4"/>
<text x="388.75" y="23.55" font-family="Liberation Sans" font-size="28" font-style="normal" fill="#fff" textLength="34.18" lengthAdjust="spacingAndGlyphs">(b)</text>
<rect x="616.6" y="1" width="16.2" height="218" fill="url(#gb)"/>
<text x="635.65" y="14.65" font-family="Liberation Serif" font-size="18.5" font-style="normal" fill="#111" textLength="23.90" lengthAdjust="spacingAndGlyphs">1.0</text>
<text x="635.80" y="116.15" font-family="Liberation Serif" font-size="18.5" font-style="normal" fill="#111" textLength="24.56" lengthAdjust="spacingAndGlyphs">0.5</text>
<text x="635.88" y="216.65" font-family="Liberation Serif" font-size="18.5" font-style="normal" fill="#111" textLength="8.83" lengthAdjust="spacingAndGlyphs">0</text>
<text transform="translate(669.80,51.44) rotate(90)" font-family="Liberation Serif" font-size="19.6" font-style="normal" fill="#111" textLength="118.22" lengthAdjust="spacingAndGlyphs">Intensity [a. u.]</text>
<line x1="90.7" y1="260.4" x2="628.6" y2="260.4" stroke="#222" stroke-width="1.3" stroke-dasharray="2.1 3.66"/>
<text x="107.19" y="308.90" font-family="Liberation Serif" font-size="27.5" font-style="normal" fill="#111" textLength="138.76" lengthAdjust="spacingAndGlyphs">Experiment</text>
<text x="486.46" y="308.60" font-family="Liberation Serif" font-size="27.5" font-style="normal" fill="#111" textLength="85.52" lengthAdjust="spacingAndGlyphs">Theory</text>
<text transform="translate(23.50,506.54) rotate(-90)" font-family="Liberation Serif" font-size="27.5" font-style="normal" fill="#111" textLength="154.18" lengthAdjust="spacingAndGlyphs">Coincidences</text>
<text transform="translate(20.90,761.48) rotate(-90)" font-family="Liberation Serif" font-size="27.5" font-style="normal" fill="#111" textLength="186.70" lengthAdjust="spacingAndGlyphs">Non-classicality</text>
<rect x="76.00" y="338.00" width="60.07" height="60.07" fill="#3e5aa8"/>
<rect x="135.67" y="338.00" width="60.06" height="60.07" fill="#2a3080"/>
<rect x="195.33" y="338.00" width="59.67" height="60.07" fill="#f05a28"/>
<rect x="76.00" y="397.67" width="60.07" height="60.06" fill="#2a3282"/>
<rect x="135.67" y="397.67" width="60.06" height="60.06" fill="#f7962a"/>
<rect x="195.33" y="397.67" width="59.67" height="60.06" fill="#2a3282"/>
<rect x="76.00" y="457.33" width="60.07" height="59.67" fill="#7f1e20"/>
<rect x="135.67" y="457.33" width="60.06" height="59.67" fill="#2c3a92"/>
<rect x="195.33" y="457.33" width="59.67" height="59.67" fill="#3f5cab"/>
<rect x="76.3" y="338.3" width="178.4" height="178.4" fill="none" stroke="#4a4a4a" stroke-width="0.6"/>
<line x1="105.83" y1="517" x2="105.83" y2="515.2" stroke="#222" stroke-width="0.7"/>
<line x1="105.83" y1="338" x2="105.83" y2="339.8" stroke="#222" stroke-width="0.7"/>
<line x1="76" y1="367.83" x2="77.8" y2="367.83" stroke="#222" stroke-width="0.7"/>
<line x1="255" y1="367.83" x2="253.2" y2="367.83" stroke="#222" stroke-width="0.7"/>
<line x1="165.50" y1="517" x2="165.50" y2="515.2" stroke="#222" stroke-width="0.7"/>
<line x1="165.50" y1="338" x2="165.50" y2="339.8" stroke="#222" stroke-width="0.7"/>
<line x1="76" y1="427.50" x2="77.8" y2="427.50" stroke="#222" stroke-width="0.7"/>
<line x1="255" y1="427.50" x2="253.2" y2="427.50" stroke="#222" stroke-width="0.7"/>
<line x1="225.17" y1="517" x2="225.17" y2="515.2" stroke="#222" stroke-width="0.7"/>
<line x1="225.17" y1="338" x2="225.17" y2="339.8" stroke="#222" stroke-width="0.7"/>
<line x1="76" y1="487.17" x2="77.8" y2="487.17" stroke="#222" stroke-width="0.7"/>
<line x1="255" y1="487.17" x2="253.2" y2="487.17" stroke="#222" stroke-width="0.7"/>
<text x="76.92" y="360.95" font-family="Liberation Sans" font-size="28" font-style="normal" fill="#fff" textLength="31.37" lengthAdjust="spacingAndGlyphs">(c)</text>
<rect x="264.4" y="339" width="13.6" height="179" fill="url(#gjet)" stroke="#3a3a3a" stroke-width="0.6"/>
<line x1="264.4" y1="357.2" x2="266.59999999999997" y2="357.2" stroke="#222" stroke-width="0.7"/>
<line x1="275.8" y1="357.2" x2="278.0" y2="357.2" stroke="#222" stroke-width="0.7"/>
<text x="279.20" y="361.70" font-family="Liberation Sans" font-size="11.3" letter-spacing="1.0" fill="#1e1e1e">0.3</text>

<line x1="264.4" y1="383.6" x2="266.59999999999997" y2="383.6" stroke="#222" stroke-width="0.7"/>
<line x1="275.8" y1="383.6" x2="278.0" y2="383.6" stroke="#222" stroke-width="0.7"/>
<text x="279.20" y="388.10" font-family="Liberation Sans" font-size="11.3" letter-spacing="1.0" fill="#1e1e1e">0.25</text>

<line x1="264.4" y1="410.2" x2="266.59999999999997" y2="410.2" stroke="#222" stroke-width="0.7"/>
<line x1="275.8" y1="410.2" x2="278.0" y2="410.2" stroke="#222" stroke-width="0.7"/>
<text x="279.20" y="414.70" font-family="Liberation Sans" font-size="11.3" letter-spacing="1.0" fill="#1e1e1e">0.2</text>

<line x1="264.4" y1="437.4" x2="266.59999999999997" y2="437.4" stroke="#222" stroke-width="0.7"/>
<line x1="275.8" y1="437.4" x2="278.0" y2="437.4" stroke="#222" stroke-width="0.7"/>
<text x="279.20" y="441.90" font-family="Liberation Sans" font-size="11.3" letter-spacing="1.0" fill="#1e1e1e">0.15</text>
<rect x="292.15" y="440.95" width="3.5" height="0.95" fill="#1e1e1e"/>
<line x1="264.4" y1="464.3" x2="266.59999999999997" y2="464.3" stroke="#222" stroke-width="0.7"/>
<line x1="275.8" y1="464.3" x2="278.0" y2="464.3" stroke="#222" stroke-width="0.7"/>
<text x="279.20" y="468.80" font-family="Liberation Sans" font-size="11.3" letter-spacing="1.0" fill="#1e1e1e">0.1</text>
<rect x="292.15" y="467.85" width="3.5" height="0.95" fill="#1e1e1e"/>
<line x1="264.4" y1="491.4" x2="266.59999999999997" y2="491.4" stroke="#222" stroke-width="0.7"/>
<line x1="275.8" y1="491.4" x2="278.0" y2="491.4" stroke="#222" stroke-width="0.7"/>
<text x="279.20" y="495.90" font-family="Liberation Sans" font-size="11.3" letter-spacing="1.0" fill="#1e1e1e">0.05</text>

<text x="105.0" y="530.2" font-family="Liberation Sans" font-size="11.5" fill="#1e1e1e" text-anchor="middle">1</text>
<text x="69.5" y="491.4" font-family="Liberation Sans" font-size="11.5" fill="#1e1e1e" text-anchor="middle">1</text>
<rect x="103.42" y="529.25" width="3.5" height="0.95" fill="#1e1e1e"/>
<rect x="67.89" y="490.42" width="3.5" height="0.95" fill="#1e1e1e"/>
<text x="164.7" y="530.2" font-family="Liberation Sans" font-size="11.5" fill="#1e1e1e" text-anchor="middle">2</text>
<text x="69.5" y="431.7" font-family="Liberation Sans" font-size="11.5" fill="#1e1e1e" text-anchor="middle">2</text>
<text x="224.4" y="530.2" font-family="Liberation Sans" font-size="11.5" fill="#1e1e1e" text-anchor="middle">3</text>
<text x="69.5" y="372.0" font-family="Liberation Sans" font-size="11.5" fill="#1e1e1e" text-anchor="middle">3</text>
<text x="91.20" y="548.20" font-family="Liberation Serif" font-size="19" font-style="normal" fill="#111" textLength="129.87" lengthAdjust="spacingAndGlyphs">waveguide index</text><g transform="translate(91.2,548.2) translate(137.2,0.2) scale(0.68,0.74) translate(-402.6,-114.2)" fill="none" stroke="#111" stroke-linecap="round" stroke-linejoin="round"><path d="M 402.6 106.2 C 403.2 104.0, 404.2 102.6, 405.4 102.6 C 406.4 102.6, 406.8 103.4, 406.7 104.4 M 406.2 107.0 C 407.2 104.2, 409.0 102.5, 411.2 102.5 C 413.2 102.5, 414.4 103.4, 414.3 105.0 M 412.6 111.8 C 412.6 113.4, 413.4 114.2, 414.4 114.2 C 415.8 114.2, 416.8 112.8, 417.3 111.2" stroke-width="1.2"/><path d="M 406.7 104.4 L 404.6 113.9 M 414.3 105.0 C 414.0 107.4, 412.8 109.8, 412.6 111.8" stroke-width="2.1"/></g><g transform="translate(91.2,548.2) translate(149.1,2.2) scale(0.66,0.62) translate(-509.2,-195.6)"><path d="M 516.4 188.9 C 515.9 187.7, 514.6 187.3, 513.3 187.4 C 511.5 187.5, 510.4 188.5, 510.8 189.8 C 511.2 191.1, 514.2 191.4, 514.9 192.8 C 515.5 194.2, 514.3 195.6, 512.4 195.6 C 510.9 195.6, 509.6 195.0, 509.2 193.9" fill="none" stroke="#111" stroke-width="1.85" stroke-linecap="round"/></g>
<text transform="translate(59.00,504.50) rotate(-90)" font-family="Liberation Serif" font-size="19" font-style="normal" fill="#111" textLength="130.27" lengthAdjust="spacingAndGlyphs">waveguide index</text><g transform="translate(59.0,504.5) rotate(-90) translate(137.0,0.2) scale(0.66,0.74) translate(-402.6,-114.2)" fill="none" stroke="#111" stroke-linecap="round" stroke-linejoin="round"><path d="M 402.6 106.2 C 403.2 104.0, 404.2 102.6, 405.4 102.6 C 406.4 102.6, 406.8 103.4, 406.7 104.4 M 406.2 107.0 C 407.2 104.2, 409.0 102.5, 411.2 102.5 C 413.2 102.5, 414.4 103.4, 414.3 105.0 M 412.6 111.8 C 412.6 113.4, 413.4 114.2, 414.4 114.2 C 415.8 114.2, 416.8 112.8, 417.3 111.2" stroke-width="1.2"/><path d="M 406.7 104.4 L 404.6 113.9 M 414.3 105.0 C 414.0 107.4, 412.8 109.8, 412.6 111.8" stroke-width="2.1"/></g><g transform="translate(59.0,504.5) rotate(-90) translate(147.8,2.6) scale(0.62,0.66) translate(-419.0,-117.3)"><circle cx="423.6" cy="106.4" r="1.15" fill="#111"/><path d="M 419.0 112.1 C 419.6 110.7, 420.6 110.1, 421.4 110.3 C 422.2 110.5, 422.1 111.6, 421.7 112.8 L 420.9 115.2 C 420.6 116.4, 421.1 117.3, 422.0 117.1 C 422.9 116.9, 423.7 115.9, 424.3 114.7" fill="none" stroke="#111" stroke-width="1.75" stroke-linecap="round"/></g>
<rect x="429.00" y="339.00" width="59.73" height="59.73" fill="#3f5aa9"/>
<rect x="488.33" y="339.00" width="59.74" height="59.73" fill="#2a3080"/>
<rect x="547.67" y="339.00" width="59.33" height="59.73" fill="#7e1f21"/>
<rect x="429.00" y="398.33" width="59.73" height="59.74" fill="#2a3080"/>
<rect x="488.33" y="398.33" width="59.74" height="59.74" fill="#fdc516"/>
<rect x="547.67" y="398.33" width="59.33" height="59.74" fill="#2a3080"/>
<rect x="429.00" y="457.67" width="59.73" height="59.33" fill="#7e1f21"/>
<rect x="488.33" y="457.67" width="59.74" height="59.33" fill="#2a3080"/>
<rect x="547.67" y="457.67" width="59.33" height="59.33" fill="#3f5aa9"/>
<rect x="429.3" y="339.3" width="177.4" height="177.4" fill="none" stroke="#4a4a4a" stroke-width="0.6"/>
<line x1="458.67" y1="517" x2="458.67" y2="515.2" stroke="#222" stroke-width="0.7"/>
<line x1="458.67" y1="339" x2="458.67" y2="340.8" stroke="#222" stroke-width="0.7"/>
<line x1="429" y1="368.67" x2="430.8" y2="368.67" stroke="#222" stroke-width="0.7"/>
<line x1="607" y1="368.67" x2="605.2" y2="368.67" stroke="#222" stroke-width="0.7"/>
<line x1="518.00" y1="517" x2="518.00" y2="515.2" stroke="#222" stroke-width="0.7"/>
<line x1="518.00" y1="339" x2="518.00" y2="340.8" stroke="#222" stroke-width="0.7"/>
<line x1="429" y1="428.00" x2="430.8" y2="428.00" stroke="#222" stroke-width="0.7"/>
<line x1="607" y1="428.00" x2="605.2" y2="428.00" stroke="#222" stroke-width="0.7"/>
<line x1="577.33" y1="517" x2="577.33" y2="515.2" stroke="#222" stroke-width="0.7"/>
<line x1="577.33" y1="339" x2="577.33" y2="340.8" stroke="#222" stroke-width="0.7"/>
<line x1="429" y1="487.33" x2="430.8" y2="487.33" stroke="#222" stroke-width="0.7"/>
<line x1="607" y1="487.33" x2="605.2" y2="487.33" stroke="#222" stroke-width="0.7"/>
<text x="428.80" y="360.60" font-family="Liberation Sans" font-size="28" font-style="normal" fill="#fff" textLength="33.18" lengthAdjust="spacingAndGlyphs">(d)</text>
<rect x="617.1" y="339" width="13.8" height="178.5" fill="url(#gjet)" stroke="#3a3a3a" stroke-width="0.6"/>
<line x1="617.1" y1="357.5" x2="619.3000000000001" y2="357.5" stroke="#222" stroke-width="0.7"/>
<line x1="628.6999999999999" y1="357.5" x2="630.9" y2="357.5" stroke="#222" stroke-width="0.7"/>
<text x="631.80" y="362.00" font-family="Liberation Sans" font-size="11.3" letter-spacing="1.0" fill="#1e1e1e">0.3</text>

<line x1="617.1" y1="383.90000000000003" x2="619.3000000000001" y2="383.90000000000003" stroke="#222" stroke-width="0.7"/>
<line x1="628.6999999999999" y1="383.90000000000003" x2="630.9" y2="383.90000000000003" stroke="#222" stroke-width="0.7"/>
<text x="631.80" y="388.40" font-family="Liberation Sans" font-size="11.3" letter-spacing="1.0" fill="#1e1e1e">0.25</text>

<line x1="617.1" y1="410.5" x2="619.3000000000001" y2="410.5" stroke="#222" stroke-width="0.7"/>
<line x1="628.6999999999999" y1="410.5" x2="630.9" y2="410.5" stroke="#222" stroke-width="0.7"/>
<text x="631.80" y="415.00" font-family="Liberation Sans" font-size="11.3" letter-spacing="1.0" fill="#1e1e1e">0.2</text>

<line x1="617.1" y1="437.7" x2="619.3000000000001" y2="437.7" stroke="#222" stroke-width="0.7"/>
<line x1="628.6999999999999" y1="437.7" x2="630.9" y2="437.7" stroke="#222" stroke-width="0.7"/>
<text x="631.80" y="442.20" font-family="Liberation Sans" font-size="11.3" letter-spacing="1.0" fill="#1e1e1e">0.15</text>
<rect x="644.75" y="441.25" width="3.5" height="0.95" fill="#1e1e1e"/>
<line x1="617.1" y1="464.6" x2="619.3000000000001" y2="464.6" stroke="#222" stroke-width="0.7"/>
<line x1="628.6999999999999" y1="464.6" x2="630.9" y2="464.6" stroke="#222" stroke-width="0.7"/>
<text x="631.80" y="469.10" font-family="Liberation Sans" font-size="11.3" letter-spacing="1.0" fill="#1e1e1e">0.1</text>
<rect x="644.75" y="468.15" width="3.5" height="0.95" fill="#1e1e1e"/>
<line x1="617.1" y1="491.7" x2="619.3000000000001" y2="491.7" stroke="#222" stroke-width="0.7"/>
<line x1="628.6999999999999" y1="491.7" x2="630.9" y2="491.7" stroke="#222" stroke-width="0.7"/>
<text x="631.80" y="496.20" font-family="Liberation Sans" font-size="11.3" letter-spacing="1.0" fill="#1e1e1e">0.05</text>

<text x="457.9" y="530.6" font-family="Liberation Sans" font-size="11.5" fill="#1e1e1e" text-anchor="middle">1</text>
<text x="422.3" y="491.5" font-family="Liberation Sans" font-size="11.5" fill="#1e1e1e" text-anchor="middle">1</text>
<rect x="456.25" y="529.65" width="3.5" height="0.95" fill="#1e1e1e"/>
<rect x="420.69" y="490.58" width="3.5" height="0.95" fill="#1e1e1e"/>
<text x="517.2" y="530.6" font-family="Liberation Sans" font-size="11.5" fill="#1e1e1e" text-anchor="middle">2</text>
<text x="422.3" y="432.2" font-family="Liberation Sans" font-size="11.5" fill="#1e1e1e" text-anchor="middle">2</text>
<text x="576.5" y="530.6" font-family="Liberation Sans" font-size="11.5" fill="#1e1e1e" text-anchor="middle">3</text>
<text x="422.3" y="372.9" font-family="Liberation Sans" font-size="11.5" fill="#1e1e1e" text-anchor="middle">3</text>
<text x="444.60" y="548.20" font-family="Liberation Serif" font-size="19" font-style="normal" fill="#111" textLength="129.87" lengthAdjust="spacingAndGlyphs">waveguide index</text><g transform="translate(444.6,548.2) translate(137.2,0.2) scale(0.68,0.74) translate(-402.6,-114.2)" fill="none" stroke="#111" stroke-linecap="round" stroke-linejoin="round"><path d="M 402.6 106.2 C 403.2 104.0, 404.2 102.6, 405.4 102.6 C 406.4 102.6, 406.8 103.4, 406.7 104.4 M 406.2 107.0 C 407.2 104.2, 409.0 102.5, 411.2 102.5 C 413.2 102.5, 414.4 103.4, 414.3 105.0 M 412.6 111.8 C 412.6 113.4, 413.4 114.2, 414.4 114.2 C 415.8 114.2, 416.8 112.8, 417.3 111.2" stroke-width="1.2"/><path d="M 406.7 104.4 L 404.6 113.9 M 414.3 105.0 C 414.0 107.4, 412.8 109.8, 412.6 111.8" stroke-width="2.1"/></g><g transform="translate(444.6,548.2) translate(149.1,2.2) scale(0.66,0.62) translate(-509.2,-195.6)"><path d="M 516.4 188.9 C 515.9 187.7, 514.6 187.3, 513.3 187.4 C 511.5 187.5, 510.4 188.5, 510.8 189.8 C 511.2 191.1, 514.2 191.4, 514.9 192.8 C 515.5 194.2, 514.3 195.6, 512.4 195.6 C 510.9 195.6, 509.6 195.0, 509.2 193.9" fill="none" stroke="#111" stroke-width="1.85" stroke-linecap="round"/></g>
<text transform="translate(411.70,505.20) rotate(-90)" font-family="Liberation Serif" font-size="19" font-style="normal" fill="#111" textLength="130.27" lengthAdjust="spacingAndGlyphs">waveguide index</text><g transform="translate(411.7,505.2) rotate(-90) translate(137.0,0.2) scale(0.66,0.74) translate(-402.6,-114.2)" fill="none" stroke="#111" stroke-linecap="round" stroke-linejoin="round"><path d="M 402.6 106.2 C 403.2 104.0, 404.2 102.6, 405.4 102.6 C 406.4 102.6, 406.8 103.4, 406.7 104.4 M 406.2 107.0 C 407.2 104.2, 409.0 102.5, 411.2 102.5 C 413.2 102.5, 414.4 103.4, 414.3 105.0 M 412.6 111.8 C 412.6 113.4, 413.4 114.2, 414.4 114.2 C 415.8 114.2, 416.8 112.8, 417.3 111.2" stroke-width="1.2"/><path d="M 406.7 104.4 L 404.6 113.9 M 414.3 105.0 C 414.0 107.4, 412.8 109.8, 412.6 111.8" stroke-width="2.1"/></g><g transform="translate(411.7,505.2) rotate(-90) translate(147.8,2.6) scale(0.62,0.66) translate(-419.0,-117.3)"><circle cx="423.6" cy="106.4" r="1.15" fill="#111"/><path d="M 419.0 112.1 C 419.6 110.7, 420.6 110.1, 421.4 110.3 C 422.2 110.5, 422.1 111.6, 421.7 112.8 L 420.9 115.2 C 420.6 116.4, 421.1 117.3, 422.0 117.1 C 422.9 116.9, 423.7 115.9, 424.3 114.7" fill="none" stroke="#111" stroke-width="1.75" stroke-linecap="round"/></g>
<rect x="76.00" y="575.00" width="59.73" height="59.73" fill="#ee3828"/>
<rect x="135.33" y="575.00" width="59.74" height="59.73" fill="#c0242c"/>
<rect x="194.67" y="575.00" width="59.33" height="59.73" fill="#3a4ca0"/>
<rect x="76.00" y="634.33" width="59.73" height="59.74" fill="#8a1e22"/>
<rect x="135.33" y="634.33" width="59.74" height="59.74" fill="#3e52a4"/>
<rect x="194.67" y="634.33" width="59.33" height="59.74" fill="#c0242c"/>
<rect x="76.00" y="693.67" width="59.73" height="59.33" fill="#2a3282"/>
<rect x="135.33" y="693.67" width="59.74" height="59.33" fill="#a82228"/>
<rect x="194.67" y="693.67" width="59.33" height="59.33" fill="#ee3828"/>
<rect x="76.3" y="575.3" width="177.4" height="177.4" fill="none" stroke="#4a4a4a" stroke-width="0.6"/>
<line x1="105.67" y1="753" x2="105.67" y2="751.2" stroke="#222" stroke-width="0.7"/>
<line x1="105.67" y1="575" x2="105.67" y2="576.8" stroke="#222" stroke-width="0.7"/>
<line x1="76" y1="604.67" x2="77.8" y2="604.67" stroke="#222" stroke-width="0.7"/>
<line x1="254" y1="604.67" x2="252.2" y2="604.67" stroke="#222" stroke-width="0.7"/>
<line x1="165.00" y1="753" x2="165.00" y2="751.2" stroke="#222" stroke-width="0.7"/>
<line x1="165.00" y1="575" x2="165.00" y2="576.8" stroke="#222" stroke-width="0.7"/>
<line x1="76" y1="664.00" x2="77.8" y2="664.00" stroke="#222" stroke-width="0.7"/>
<line x1="254" y1="664.00" x2="252.2" y2="664.00" stroke="#222" stroke-width="0.7"/>
<line x1="224.33" y1="753" x2="224.33" y2="751.2" stroke="#222" stroke-width="0.7"/>
<line x1="224.33" y1="575" x2="224.33" y2="576.8" stroke="#222" stroke-width="0.7"/>
<line x1="76" y1="723.33" x2="77.8" y2="723.33" stroke="#222" stroke-width="0.7"/>
<line x1="254" y1="723.33" x2="252.2" y2="723.33" stroke="#222" stroke-width="0.7"/>
<text x="75.43" y="597.50" font-family="Liberation Sans" font-size="28" font-style="normal" fill="#fff" textLength="32.73" lengthAdjust="spacingAndGlyphs">(e)</text>
<rect x="264" y="575.5" width="13.6" height="178.2" fill="url(#gjet)" stroke="#3a3a3a" stroke-width="0.6"/>
<line x1="264" y1="594.4" x2="266.2" y2="594.4" stroke="#222" stroke-width="0.7"/>
<line x1="275.40000000000003" y1="594.4" x2="277.6" y2="594.4" stroke="#222" stroke-width="0.7"/>
<text x="278.70" y="598.90" font-family="Liberation Sans" font-size="11.3" letter-spacing="1.0" fill="#1e1e1e">0.15</text>
<rect x="291.65" y="597.95" width="3.5" height="0.95" fill="#1e1e1e"/>
<line x1="264" y1="624.8" x2="266.2" y2="624.8" stroke="#222" stroke-width="0.7"/>
<line x1="275.40000000000003" y1="624.8" x2="277.6" y2="624.8" stroke="#222" stroke-width="0.7"/>
<text x="278.70" y="629.30" font-family="Liberation Sans" font-size="11.3" letter-spacing="1.0" fill="#1e1e1e">0.1</text>
<rect x="291.65" y="628.35" width="3.5" height="0.95" fill="#1e1e1e"/>
<line x1="264" y1="655.4" x2="266.2" y2="655.4" stroke="#222" stroke-width="0.7"/>
<line x1="275.40000000000003" y1="655.4" x2="277.6" y2="655.4" stroke="#222" stroke-width="0.7"/>
<text x="278.70" y="659.90" font-family="Liberation Sans" font-size="11.3" letter-spacing="1.0" fill="#1e1e1e">0.05</text>

<line x1="264" y1="686.2" x2="266.2" y2="686.2" stroke="#222" stroke-width="0.7"/>
<line x1="275.40000000000003" y1="686.2" x2="277.6" y2="686.2" stroke="#222" stroke-width="0.7"/>
<text x="278.70" y="690.70" font-family="Liberation Sans" font-size="11.3" letter-spacing="1.0" fill="#1e1e1e">0</text>

<line x1="264" y1="716.7" x2="266.2" y2="716.7" stroke="#222" stroke-width="0.7"/>
<line x1="275.40000000000003" y1="716.7" x2="277.6" y2="716.7" stroke="#222" stroke-width="0.7"/>
<rect x="278.80" y="717.35" width="4.6" height="1.25" fill="#1e1e1e"/>
<text x="285.10" y="721.20" font-family="Liberation Sans" font-size="11.3" letter-spacing="1.0" fill="#1e1e1e">0.05</text>

<line x1="264" y1="747.5" x2="266.2" y2="747.5" stroke="#222" stroke-width="0.7"/>
<line x1="275.40000000000003" y1="747.5" x2="277.6" y2="747.5" stroke="#222" stroke-width="0.7"/>
<rect x="278.80" y="748.15" width="4.6" height="1.25" fill="#1e1e1e"/>
<text x="285.10" y="752.00" font-family="Liberation Sans" font-size="11.3" letter-spacing="1.0" fill="#1e1e1e">0.1</text>
<rect x="298.05" y="751.05" width="3.5" height="0.95" fill="#1e1e1e"/>
<text x="104.9" y="766.9" font-family="Liberation Sans" font-size="11.5" fill="#1e1e1e" text-anchor="middle">1</text>
<text x="69.6" y="727.5" font-family="Liberation Sans" font-size="11.5" fill="#1e1e1e" text-anchor="middle">1</text>
<rect x="103.25" y="765.95" width="3.5" height="0.95" fill="#1e1e1e"/>
<rect x="67.99" y="726.58" width="3.5" height="0.95" fill="#1e1e1e"/>
<text x="164.2" y="766.9" font-family="Liberation Sans" font-size="11.5" fill="#1e1e1e" text-anchor="middle">2</text>
<text x="69.6" y="668.2" font-family="Liberation Sans" font-size="11.5" fill="#1e1e1e" text-anchor="middle">2</text>
<text x="223.5" y="766.9" font-family="Liberation Sans" font-size="11.5" fill="#1e1e1e" text-anchor="middle">3</text>
<text x="69.6" y="608.9" font-family="Liberation Sans" font-size="11.5" fill="#1e1e1e" text-anchor="middle">3</text>
<text x="91.60" y="783.20" font-family="Liberation Serif" font-size="19" font-style="normal" fill="#111" textLength="129.87" lengthAdjust="spacingAndGlyphs">waveguide index</text><g transform="translate(91.6,783.2) translate(137.2,0.2) scale(0.68,0.74) translate(-402.6,-114.2)" fill="none" stroke="#111" stroke-linecap="round" stroke-linejoin="round"><path d="M 402.6 106.2 C 403.2 104.0, 404.2 102.6, 405.4 102.6 C 406.4 102.6, 406.8 103.4, 406.7 104.4 M 406.2 107.0 C 407.2 104.2, 409.0 102.5, 411.2 102.5 C 413.2 102.5, 414.4 103.4, 414.3 105.0 M 412.6 111.8 C 412.6 113.4, 413.4 114.2, 414.4 114.2 C 415.8 114.2, 416.8 112.8, 417.3 111.2" stroke-width="1.2"/><path d="M 406.7 104.4 L 404.6 113.9 M 414.3 105.0 C 414.0 107.4, 412.8 109.8, 412.6 111.8" stroke-width="2.1"/></g><g transform="translate(91.6,783.2) translate(149.1,2.2) scale(0.66,0.62) translate(-509.2,-195.6)"><path d="M 516.4 188.9 C 515.9 187.7, 514.6 187.3, 513.3 187.4 C 511.5 187.5, 510.4 188.5, 510.8 189.8 C 511.2 191.1, 514.2 191.4, 514.9 192.8 C 515.5 194.2, 514.3 195.6, 512.4 195.6 C 510.9 195.6, 509.6 195.0, 509.2 193.9" fill="none" stroke="#111" stroke-width="1.85" stroke-linecap="round"/></g>
<text transform="translate(58.70,740.50) rotate(-90)" font-family="Liberation Serif" font-size="19" font-style="normal" fill="#111" textLength="130.27" lengthAdjust="spacingAndGlyphs">waveguide index</text><g transform="translate(58.7,740.5) rotate(-90) translate(137.0,0.2) scale(0.66,0.74) translate(-402.6,-114.2)" fill="none" stroke="#111" stroke-linecap="round" stroke-linejoin="round"><path d="M 402.6 106.2 C 403.2 104.0, 404.2 102.6, 405.4 102.6 C 406.4 102.6, 406.8 103.4, 406.7 104.4 M 406.2 107.0 C 407.2 104.2, 409.0 102.5, 411.2 102.5 C 413.2 102.5, 414.4 103.4, 414.3 105.0 M 412.6 111.8 C 412.6 113.4, 413.4 114.2, 414.4 114.2 C 415.8 114.2, 416.8 112.8, 417.3 111.2" stroke-width="1.2"/><path d="M 406.7 104.4 L 404.6 113.9 M 414.3 105.0 C 414.0 107.4, 412.8 109.8, 412.6 111.8" stroke-width="2.1"/></g><g transform="translate(58.7,740.5) rotate(-90) translate(147.8,2.6) scale(0.62,0.66) translate(-419.0,-117.3)"><circle cx="423.6" cy="106.4" r="1.15" fill="#111"/><path d="M 419.0 112.1 C 419.6 110.7, 420.6 110.1, 421.4 110.3 C 422.2 110.5, 422.1 111.6, 421.7 112.8 L 420.9 115.2 C 420.6 116.4, 421.1 117.3, 422.0 117.1 C 422.9 116.9, 423.7 115.9, 424.3 114.7" fill="none" stroke="#111" stroke-width="1.75" stroke-linecap="round"/></g>
<rect x="429.00" y="580.00" width="59.73" height="59.73" fill="#b82a2c"/>
<rect x="488.33" y="580.00" width="59.74" height="59.73" fill="#7f1e20"/>
<rect x="547.67" y="580.00" width="59.33" height="59.73" fill="#2a3282"/>
<rect x="429.00" y="639.33" width="59.73" height="59.74" fill="#801e20"/>
<rect x="488.33" y="639.33" width="59.74" height="59.74" fill="#3e58a8"/>
<rect x="547.67" y="639.33" width="59.33" height="59.74" fill="#801e20"/>
<rect x="429.00" y="698.67" width="59.73" height="59.33" fill="#2a3282"/>
<rect x="488.33" y="698.67" width="59.74" height="59.33" fill="#801e20"/>
<rect x="547.67" y="698.67" width="59.33" height="59.33" fill="#b82a2c"/>
<rect x="429.3" y="580.3" width="177.4" height="177.4" fill="none" stroke="#4a4a4a" stroke-width="0.6"/>
<line x1="458.67" y1="758" x2="458.67" y2="756.2" stroke="#222" stroke-width="0.7"/>
<line x1="458.67" y1="580" x2="458.67" y2="581.8" stroke="#222" stroke-width="0.7"/>
<line x1="429" y1="609.67" x2="430.8" y2="609.67" stroke="#222" stroke-width="0.7"/>
<line x1="607" y1="609.67" x2="605.2" y2="609.67" stroke="#222" stroke-width="0.7"/>
<line x1="518.00" y1="758" x2="518.00" y2="756.2" stroke="#222" stroke-width="0.7"/>
<line x1="518.00" y1="580" x2="518.00" y2="581.8" stroke="#222" stroke-width="0.7"/>
<line x1="429" y1="669.00" x2="430.8" y2="669.00" stroke="#222" stroke-width="0.7"/>
<line x1="607" y1="669.00" x2="605.2" y2="669.00" stroke="#222" stroke-width="0.7"/>
<line x1="577.33" y1="758" x2="577.33" y2="756.2" stroke="#222" stroke-width="0.7"/>
<line x1="577.33" y1="580" x2="577.33" y2="581.8" stroke="#222" stroke-width="0.7"/>
<line x1="429" y1="728.33" x2="430.8" y2="728.33" stroke="#222" stroke-width="0.7"/>
<line x1="607" y1="728.33" x2="605.2" y2="728.33" stroke="#222" stroke-width="0.7"/>
<text x="429.36" y="602.50" font-family="Liberation Sans" font-size="28" font-style="normal" fill="#fff" textLength="24.71" lengthAdjust="spacingAndGlyphs">(f)</text>
<rect x="617" y="581" width="13.7" height="179" fill="url(#gjet)" stroke="#3a3a3a" stroke-width="0.6"/>
<line x1="617" y1="600.4" x2="619.2" y2="600.4" stroke="#222" stroke-width="0.7"/>
<line x1="628.5" y1="600.4" x2="630.7" y2="600.4" stroke="#222" stroke-width="0.7"/>
<text x="631.50" y="604.90" font-family="Liberation Sans" font-size="11.3" letter-spacing="1.0" fill="#1e1e1e">0.15</text>
<rect x="644.45" y="603.95" width="3.5" height="0.95" fill="#1e1e1e"/>
<line x1="617" y1="630.9" x2="619.2" y2="630.9" stroke="#222" stroke-width="0.7"/>
<line x1="628.5" y1="630.9" x2="630.7" y2="630.9" stroke="#222" stroke-width="0.7"/>
<text x="631.50" y="635.40" font-family="Liberation Sans" font-size="11.3" letter-spacing="1.0" fill="#1e1e1e">0.1</text>
<rect x="644.45" y="634.45" width="3.5" height="0.95" fill="#1e1e1e"/>
<line x1="617" y1="661.4" x2="619.2" y2="661.4" stroke="#222" stroke-width="0.7"/>
<line x1="628.5" y1="661.4" x2="630.7" y2="661.4" stroke="#222" stroke-width="0.7"/>
<text x="631.50" y="665.90" font-family="Liberation Sans" font-size="11.3" letter-spacing="1.0" fill="#1e1e1e">0.05</text>

<line x1="617" y1="691.9" x2="619.2" y2="691.9" stroke="#222" stroke-width="0.7"/>
<line x1="628.5" y1="691.9" x2="630.7" y2="691.9" stroke="#222" stroke-width="0.7"/>
<text x="631.50" y="696.40" font-family="Liberation Sans" font-size="11.3" letter-spacing="1.0" fill="#1e1e1e">0</text>

<line x1="617" y1="722.5" x2="619.2" y2="722.5" stroke="#222" stroke-width="0.7"/>
<line x1="628.5" y1="722.5" x2="630.7" y2="722.5" stroke="#222" stroke-width="0.7"/>
<rect x="631.60" y="723.15" width="4.6" height="1.25" fill="#1e1e1e"/>
<text x="637.90" y="727.00" font-family="Liberation Sans" font-size="11.3" letter-spacing="1.0" fill="#1e1e1e">0.05</text>

<line x1="617" y1="753.0" x2="619.2" y2="753.0" stroke="#222" stroke-width="0.7"/>
<line x1="628.5" y1="753.0" x2="630.7" y2="753.0" stroke="#222" stroke-width="0.7"/>
<rect x="631.60" y="753.65" width="4.6" height="1.25" fill="#1e1e1e"/>
<text x="637.90" y="757.50" font-family="Liberation Sans" font-size="11.3" letter-spacing="1.0" fill="#1e1e1e">0.1</text>
<rect x="650.85" y="756.55" width="3.5" height="0.95" fill="#1e1e1e"/>
<text x="457.9" y="772.5" font-family="Liberation Sans" font-size="11.5" fill="#1e1e1e" text-anchor="middle">1</text>
<text x="422.3" y="732.5" font-family="Liberation Sans" font-size="11.5" fill="#1e1e1e" text-anchor="middle">1</text>
<rect x="456.25" y="771.55" width="3.5" height="0.95" fill="#1e1e1e"/>
<rect x="420.69" y="731.58" width="3.5" height="0.95" fill="#1e1e1e"/>
<text x="517.2" y="772.5" font-family="Liberation Sans" font-size="11.5" fill="#1e1e1e" text-anchor="middle">2</text>
<text x="422.3" y="673.2" font-family="Liberation Sans" font-size="11.5" fill="#1e1e1e" text-anchor="middle">2</text>
<text x="576.5" y="772.5" font-family="Liberation Sans" font-size="11.5" fill="#1e1e1e" text-anchor="middle">3</text>
<text x="422.3" y="613.9" font-family="Liberation Sans" font-size="11.5" fill="#1e1e1e" text-anchor="middle">3</text>
<text x="444.60" y="783.50" font-family="Liberation Serif" font-size="19" font-style="normal" fill="#111" textLength="129.87" lengthAdjust="spacingAndGlyphs">waveguide index</text><g transform="translate(444.6,783.5) translate(137.2,0.2) scale(0.68,0.74) translate(-402.6,-114.2)" fill="none" stroke="#111" stroke-linecap="round" stroke-linejoin="round"><path d="M 402.6 106.2 C 403.2 104.0, 404.2 102.6, 405.4 102.6 C 406.4 102.6, 406.8 103.4, 406.7 104.4 M 406.2 107.0 C 407.2 104.2, 409.0 102.5, 411.2 102.5 C 413.2 102.5, 414.4 103.4, 414.3 105.0 M 412.6 111.8 C 412.6 113.4, 413.4 114.2, 414.4 114.2 C 415.8 114.2, 416.8 112.8, 417.3 111.2" stroke-width="1.2"/><path d="M 406.7 104.4 L 404.6 113.9 M 414.3 105.0 C 414.0 107.4, 412.8 109.8, 412.6 111.8" stroke-width="2.1"/></g><g transform="translate(444.6,783.5) translate(149.1,2.2) scale(0.66,0.62) translate(-509.2,-195.6)"><path d="M 516.4 188.9 C 515.9 187.7, 514.6 187.3, 513.3 187.4 C 511.5 187.5, 510.4 188.5, 510.8 189.8 C 511.2 191.1, 514.2 191.4, 514.9 192.8 C 515.5 194.2, 514.3 195.6, 512.4 195.6 C 510.9 195.6, 509.6 195.0, 509.2 193.9" fill="none" stroke="#111" stroke-width="1.85" stroke-linecap="round"/></g>
<text transform="translate(412.00,741.80) rotate(-90)" font-family="Liberation Serif" font-size="19" font-style="normal" fill="#111" textLength="130.27" lengthAdjust="spacingAndGlyphs">waveguide index</text><g transform="translate(412.0,741.8) rotate(-90) translate(137.0,0.2) scale(0.66,0.74) translate(-402.6,-114.2)" fill="none" stroke="#111" stroke-linecap="round" stroke-linejoin="round"><path d="M 402.6 106.2 C 403.2 104.0, 404.2 102.6, 405.4 102.6 C 406.4 102.6, 406.8 103.4, 406.7 104.4 M 406.2 107.0 C 407.2 104.2, 409.0 102.5, 411.2 102.5 C 413.2 102.5, 414.4 103.4, 414.3 105.0 M 412.6 111.8 C 412.6 113.4, 413.4 114.2, 414.4 114.2 C 415.8 114.2, 416.8 112.8, 417.3 111.2" stroke-width="1.2"/><path d="M 406.7 104.4 L 404.6 113.9 M 414.3 105.0 C 414.0 107.4, 412.8 109.8, 412.6 111.8" stroke-width="2.1"/></g><g transform="translate(412.0,741.8) rotate(-90) translate(147.8,2.6) scale(0.62,0.66) translate(-419.0,-117.3)"><circle cx="423.6" cy="106.4" r="1.15" fill="#111"/><path d="M 419.0 112.1 C 419.6 110.7, 420.6 110.1, 421.4 110.3 C 422.2 110.5, 422.1 111.6, 421.7 112.8 L 420.9 115.2 C 420.6 116.4, 421.1 117.3, 422.0 117.1 C 422.9 116.9, 423.7 115.9, 424.3 114.7" fill="none" stroke="#111" stroke-width="1.75" stroke-linecap="round"/></g>
</svg></body></html>
